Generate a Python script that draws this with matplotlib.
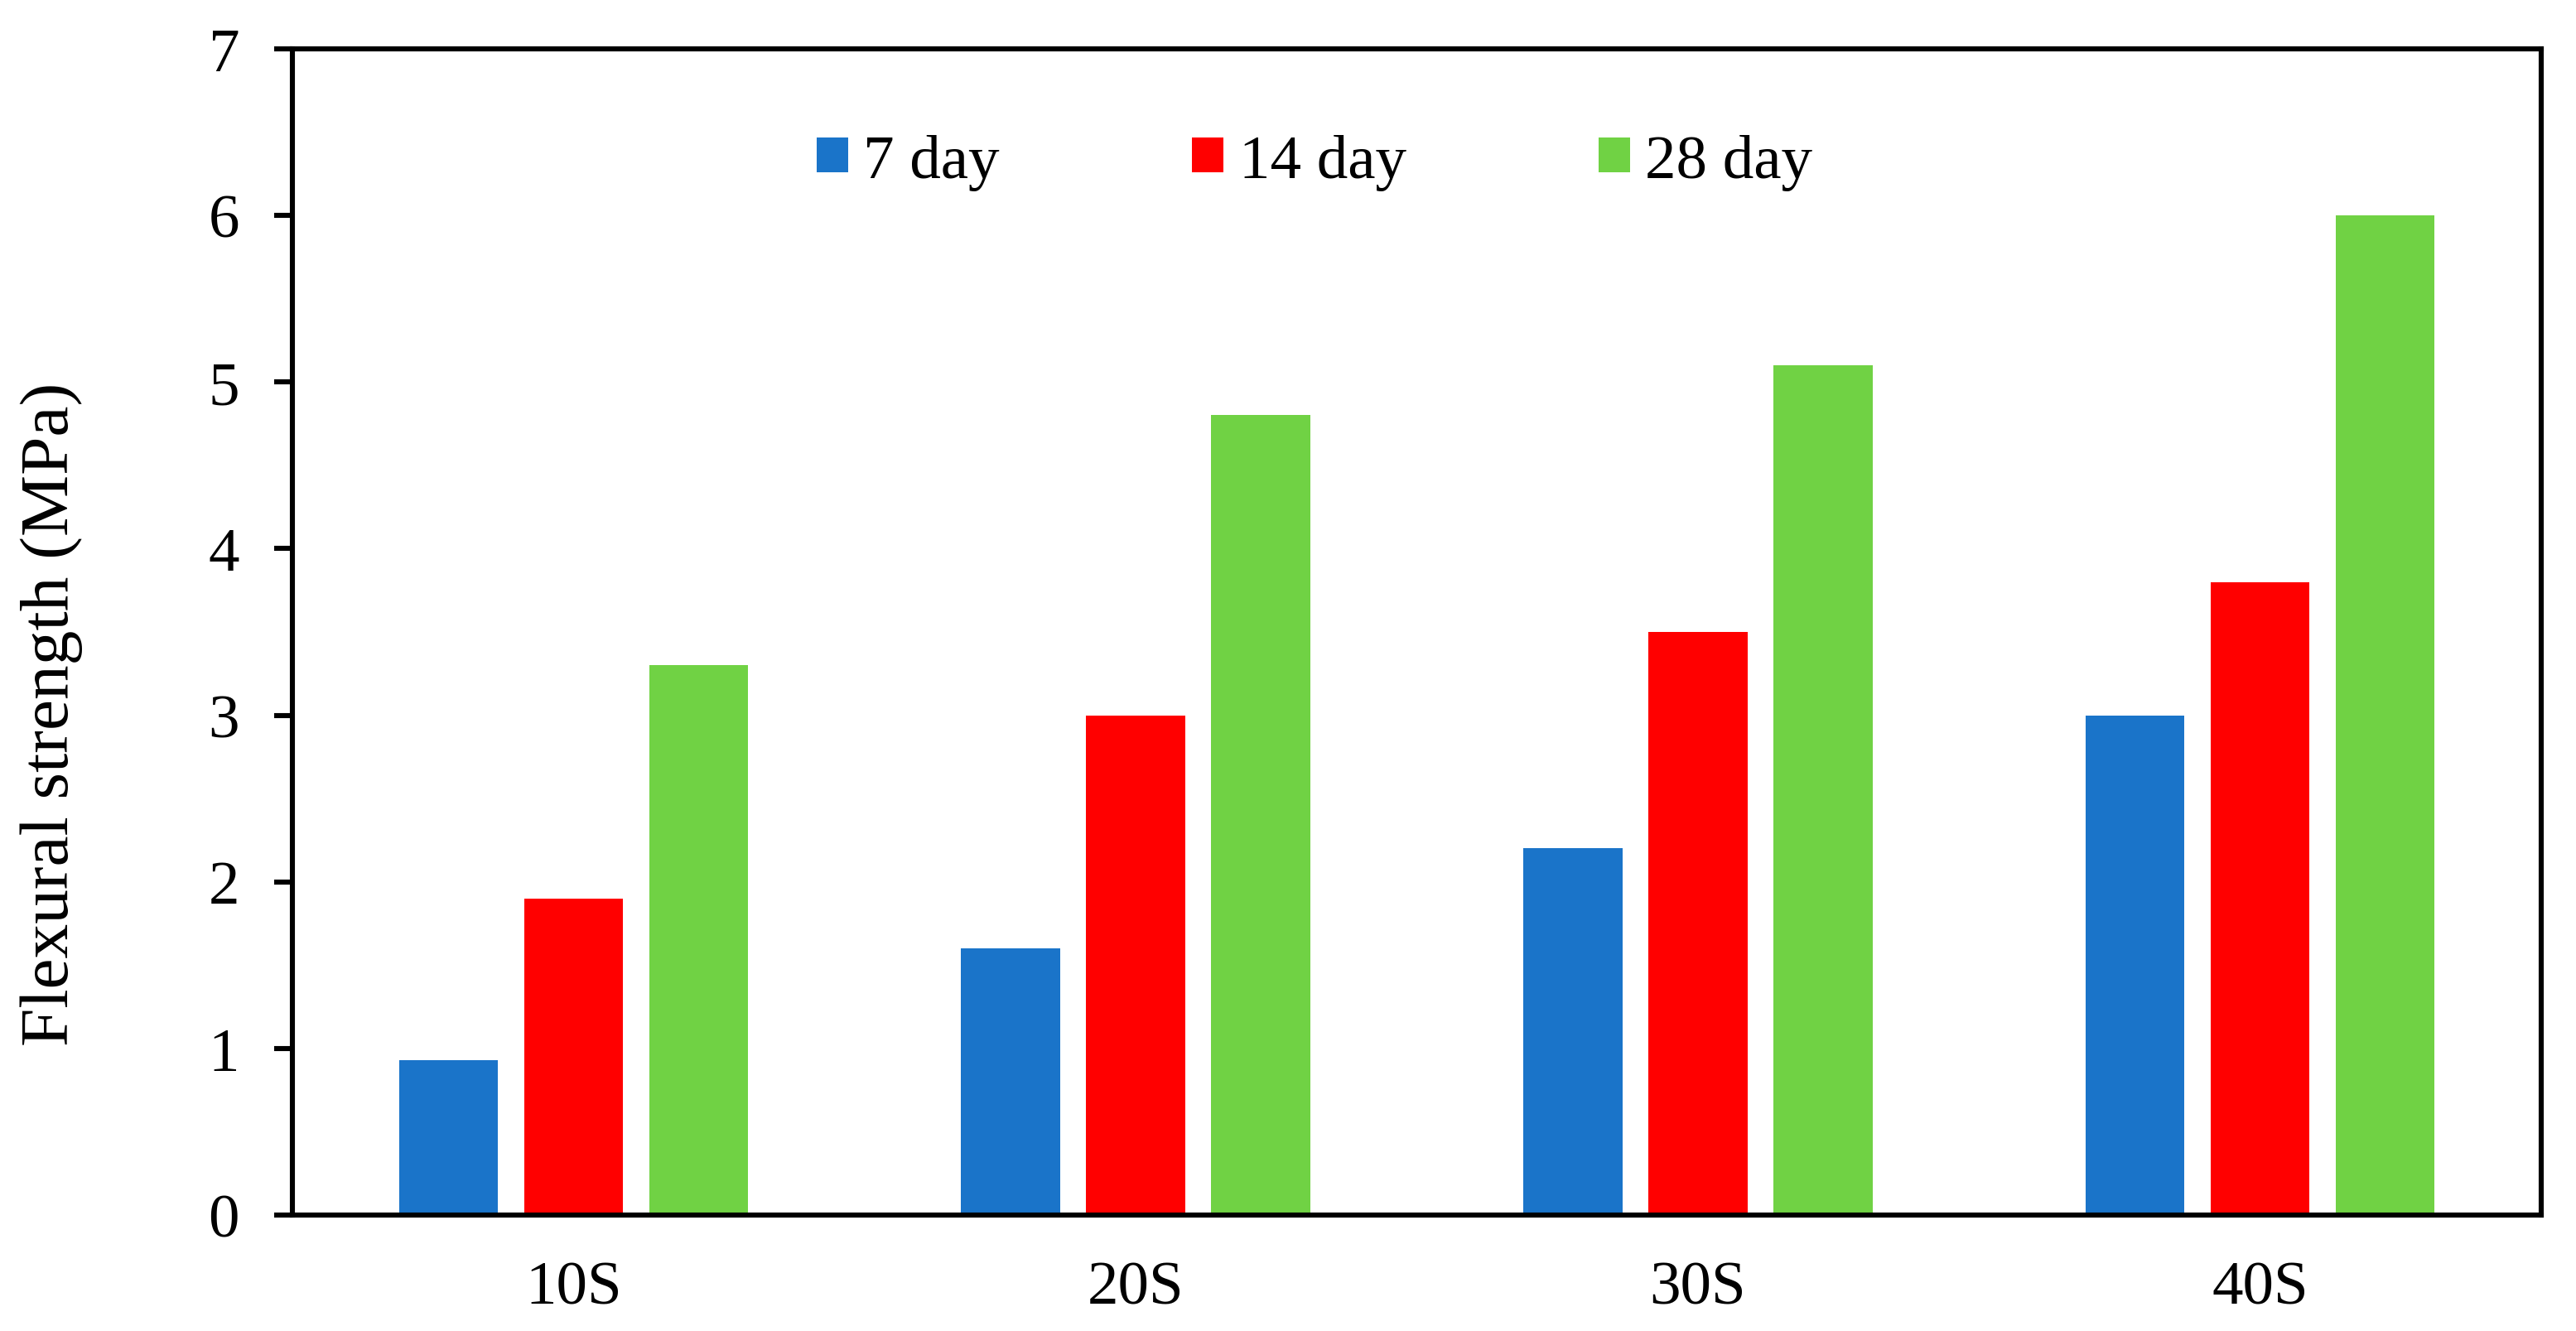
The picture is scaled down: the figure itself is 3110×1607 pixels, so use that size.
import numpy as np
import matplotlib
matplotlib.use("Agg")
import matplotlib.pyplot as plt

mixes = ["10S", "20S", "30S", "40S"]
day7 = [0.93, 1.6, 2.2, 3.0]
day14 = [1.9, 3.0, 3.5, 3.8]
day28 = [3.3, 4.8, 5.1, 6.0]
series_names = ["7 day", "14 day", "28 day"]
colors = ["#1a74c9", "#ff0000", "#70d244"]

plt.rcParams["font.family"] = ["Liberation Serif", "DejaVu Serif"]

fig = plt.figure(figsize=(15.55, 8.04), dpi=200)
ax = fig.add_axes([0.1135, 0.0871, 0.873, 0.8756])

x = np.arange(len(mixes))
w = 0.176
step = 0.2225
for i, vals in enumerate([day7, day14, day28]):
    ax.bar(x + (i - 1) * step, vals, width=w, color=colors[i], label=series_names[i])

ax.set_xlim(-0.5, 3.5)
ax.set_ylim(0, 7)
ax.set_yticks(range(0, 8))
ax.set_xticks(x)
ax.set_xticklabels(mixes)
ax.tick_params(axis="y", direction="out", length=8, width=2.2, labelsize=27, pad=15)
ax.tick_params(axis="x", length=0, labelsize=27, pad=20)
for s in ax.spines.values():
    s.set_linewidth(2.2)
ax.set_ylabel("Flexural strength (MPa)", fontsize=30)
ax.yaxis.set_label_coords(-0.093, 0.43)

ax.legend(loc="center", bbox_to_anchor=(0.4546, 0.903), ncol=3, frameon=False,
          fontsize=27, handlelength=0.5, handleheight=0.5, handletextpad=0.25,
          columnspacing=3.1, borderpad=0)

fig.savefig("out.png", dpi=200)
